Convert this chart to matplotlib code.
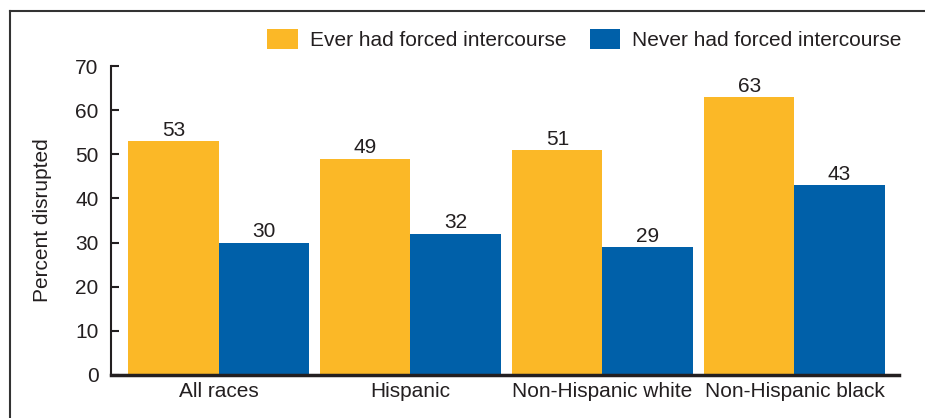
import matplotlib
matplotlib.use("Agg")
import matplotlib.pyplot as plt
from matplotlib.lines import Line2D
import numpy as np

categories = ["All races", "Hispanic", "Non-Hispanic white", "Non-Hispanic black"]
series_names = ["Ever had forced intercourse", "Never had forced intercourse"]
ever = [53, 49, 51, 63]
never = [30, 32, 29, 43]
yticks = [0, 10, 20, 30, 40, 50, 60, 70]

plt.rcParams['font.family'] = ['Liberation Sans', 'DejaVu Sans']
text_color = "#231F20"
yellow = "#FBB827"
blue = "#0060A9"
fs = 15

fig = plt.figure(figsize=(9.25, 4.18), dpi=100)
ax = fig.add_axes([0.12, 0.1029, 0.852, 0.739])

x = np.arange(len(categories))
w = 0.47
b1 = ax.bar(x - w/2, ever, width=w, color=yellow, label=series_names[0])
b2 = ax.bar(x + w/2, never, width=w, color=blue, label=series_names[1])

for bars, vals in ((b1, ever), (b2, never)):
    for r, v in zip(bars, vals):
        ax.text(r.get_x() + r.get_width()/2, v + 0.3, str(v), ha='center', va='bottom',
                fontsize=fs, color=text_color)

ax.set_xlim(-0.56, 3.545)
ax.set_ylim(0, 70)
ax.set_yticks(yticks)
ax.set_xticks(x)
ax.set_xticklabels(categories)
ax.tick_params(axis='y', direction='in', length=6, width=1.5, colors=text_color,
               labelsize=fs, pad=9)
ax.tick_params(axis='x', length=0, labelsize=fs, colors=text_color, pad=5)
for s in ('top', 'right'):
    ax.spines[s].set_visible(False)
ax.spines['left'].set_linewidth(1.5)
ax.spines['left'].set_color(text_color)
ax.spines['bottom'].set_linewidth(2.5)
ax.spines['bottom'].set_color(text_color)
ax.set_ylabel("Percent disrupted", fontsize=fs, color=text_color, labelpad=17)

leg = fig.legend(handles=[b1, b2], labels=series_names, loc='upper right',
                 bbox_to_anchor=(0.995, 0.975), ncol=2, frameon=False,
                 fontsize=fs, handlelength=1.45, handleheight=1.1,
                 handletextpad=0.6, columnspacing=1.1)
for t in leg.get_texts():
    t.set_color(text_color)

# frame lines (left and top)
fig.add_artist(Line2D([0.0103, 0.0103], [0, 0.974], transform=fig.transFigure,
                      color="#333333", linewidth=1.5))
fig.add_artist(Line2D([0.0103, 1.0], [0.974, 0.974], transform=fig.transFigure,
                      color="#333333", linewidth=1.5))

fig.savefig("out.png", dpi=100)
